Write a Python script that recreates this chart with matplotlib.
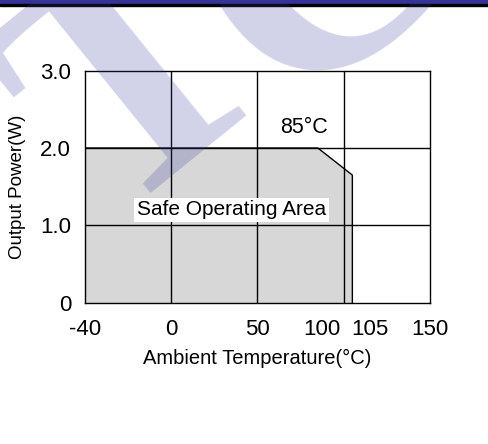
"""
Output power derating curve (safe operating area)
"""
import numpy as np
import matplotlib.pyplot as plt
from matplotlib.transforms import ScaledTranslation

# grid temperatures, drawn evenly spaced as in the datasheet
grid_temps = [-40, 0, 50, 100, 150]
tick_temps = [-40, 0, 50, 100, 105, 150]
tick_labels = ["-40", "0", "50", "100", "105", "150"]
power_ticks = [0, 1, 2, 3]
power_labels = ["0", "1.0", "2.0", "3.0"]

# derating curve
curve_temp = [-40, 85, 105, 105]
curve_power = [2.0, 2.0, 1.65, 0.0]

SANS = ["Liberation Sans", "DejaVu Sans"]


def forward(t):
    return np.interp(t, grid_temps, np.arange(len(grid_temps)))


def inverse(p):
    return np.interp(p, np.arange(len(grid_temps)), grid_temps)


def plot():
    fig = plt.figure(figsize=(4.89, 4.44), dpi=100)

    # header bar
    fig.patches.append(plt.Rectangle((0, 0.9905), 1, 0.0095, transform=fig.transFigure,
                                     color="#333399", zorder=0))
    fig.patches.append(plt.Rectangle((0, 0.986), 1, 0.005, transform=fig.transFigure,
                                     color="black", zorder=0))

    ax = fig.add_axes([0.1738, 0.3183, 0.7055, 0.5225])
    ax.set_xscale("function", functions=(forward, inverse))
    ax.set_xlim(-40, 150)
    ax.set_ylim(0, 3)

    ax.fill_between(curve_temp, curve_power, 0, color="#d7d7d7", lw=0, zorder=1)
    ax.plot(curve_temp, curve_power, color="black", lw=1, zorder=3)

    for t in grid_temps[1:-1]:
        ax.axvline(t, color="black", lw=1, zorder=2)
    for p in power_ticks[1:-1]:
        ax.axhline(p, color="black", lw=1, zorder=2)
    for s in ax.spines.values():
        s.set_linewidth(1)

    ax.set_xticks(tick_temps)
    ax.set_xticklabels(tick_labels, family=SANS, fontsize=16)
    ax.set_yticks(power_ticks)
    ax.set_yticklabels(power_labels, family=SANS, fontsize=16)
    ax.tick_params(axis="x", length=0, pad=12)
    ax.tick_params(axis="y", length=0, pad=10)
    ax.minorticks_off()

    # spread the crowded 100 / 105 labels apart
    labels = ax.get_xticklabels()
    labels[3].set_transform(labels[3].get_transform()
                            + ScaledTranslation(-0.22, 0, fig.dpi_scale_trans))
    labels[4].set_transform(labels[4].get_transform()
                            + ScaledTranslation(0.18, 0, fig.dpi_scale_trans))

    ax.set_xlabel("Ambient Temperature(°C)", family=SANS, fontsize=14.5, labelpad=6)
    ax.set_ylabel("Output Power(W)", family=SANS, fontsize=13.5, labelpad=10)

    ax.text(35, 1.2, "Safe Operating Area", family=SANS, fontsize=15,
            ha="center", va="center", zorder=4,
            bbox=dict(facecolor="white", edgecolor="none", pad=2))
    ax.text(77, 2.26, "85°C", family=SANS, fontsize=15.5,
            ha="center", va="center", zorder=4)

    # watermark letters
    wm = dict(family="Liberation Serif", weight="bold", rotation=39,
              rotation_mode="anchor", color="#3a3a9c", alpha=0.23, zorder=10)
    fig.text(0.405, 0.66, "T", fontsize=245, ha="center", va="baseline", **wm)
    fig.text(0.675, 1.068, "C", fontsize=245, ha="center", va="center", **wm)

    fig.savefig("out.png", dpi=100)


if __name__ == "__main__":
    plot()
